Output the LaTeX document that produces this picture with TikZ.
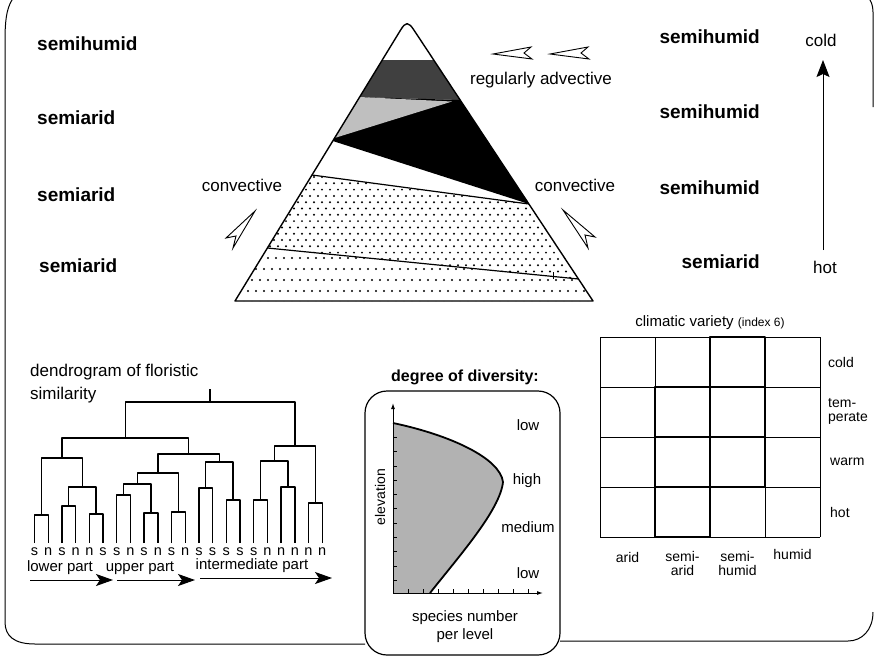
\documentclass[tikz,border=0pt]{standalone}
\usepackage{fontspec}
\setmainfont{Liberation Sans}
\usetikzlibrary{arrows.meta}
\newcommand\djoin[5]{\draw[den] (#1,#2) -- (#1,#5) -- (#3,#5) -- (#3,#4);}
\begin{document}
\begin{tikzpicture}[x=1pt,y=-1pt,line join=round,
 boldlab/.style={font=\fontsize{19}{22}\selectfont\bfseries,inner sep=0pt},
 lab/.style={font=\fontsize{17}{20}\selectfont,inner sep=0pt},
 smalllab/.style={font=\fontsize{14}{14}\selectfont,inner sep=0pt,align=center},
 midlab/.style={font=\fontsize{15}{17}\selectfont,inner sep=0pt,align=center},
 leaflab/.style={font=\fontsize{14.5}{15}\selectfont,inner sep=0pt},
 dart/.style={draw,fill=white,line width=0.9pt,line join=miter},
 den/.style={line width=1.4pt},
 gridline/.style={line width=0.8pt},
 thickcell/.style={line width=2.6pt},
 frameline/.style={line width=1pt},
 bigarrow/.style={line width=1pt,-{Stealth[length=17pt,width=12pt,inset=4pt]}},
 axisarrow/.style={line width=1pt,-{Latex[length=6pt,width=4pt]}},
]
\useasboundingbox (0,0) rectangle (876,657);

% ---------- outer frame ----------
\draw[frameline] (14,-3) .. controls (8,5) and (5,15) .. (5,40) -- (5,622)
  .. controls (5,636) and (14,644) .. (35,644) -- (365,644);
\draw[frameline] (560,641) -- (848,641) .. controls (862,641) and (873,630) .. (873,612);
\draw[frameline] (873,107) -- (873,12) .. controls (873,5) and (871,1) .. (868,-3);

% ---------- triangle ----------
\coordinate (A) at (407,19.5);
\coordinate (L) at (235,301);
\coordinate (R) at (593,301);
\coordinate (l60) at (382.3,60);   \coordinate (r60) at (433.8,60);
\coordinate (l97) at (359.6,97);   \coordinate (r100) at (460.2,100);
\coordinate (K) at (452,101.5);
\coordinate (l138) at (334.6,138); \coordinate (l141) at (332.8,141);
\coordinate (l175) at (312.0,175); \coordinate (r204) at (528.9,204);
\coordinate (l248) at (267.4,248); \coordinate (r279) at (578.5,279);

\fill[black!75] (l60) -- (r60) -- (r100) -- (l97) -- cycle;
\fill[black] (l97) -- (r100) -- (r204) -- (l141) -- cycle;
\fill[black!25] (l97) -- (K) -- (l138) -- cycle;

\begin{scope}
\clip (l175) -- (r204) -- (r279) -- (l248) -- cycle;
\foreach \j in {0,...,17}{
  \foreach \i in {0,...,42}{
    \fill ({258+8*\i+4*mod(\j,2)},{177+6.3*\j}) circle[radius=1.1pt];
  }
}
\end{scope}
\begin{scope}
\clip (l248) -- (r279) -- (R) -- (L) -- cycle;
\foreach \j in {0,...,5}{
  \foreach \i in {0,...,46}{
    \fill ({232+8*\i+4*mod(\j,2)},{247+11*\j}) circle[radius=1.05pt];
  }
}
\end{scope}

\draw[line width=1.2pt] (l175) -- (r204);
\draw[line width=1.2pt] (l248) -- (r279);
\draw[line width=0.8pt] (553,272) -- (553,279);
\draw[line width=1.4pt] (L) -- (400.6,30) .. controls (405.7,21.6) and (408.4,21.6) .. (413.9,30) -- (R) -- cycle;

% ---------- open arrows ----------
\draw[dart] (493,54) -- (531,47) -- (524,53) -- (532,59) -- cycle;
\draw[dart] (550,54) -- (588,47) -- (581,53) -- (589,59) -- cycle;
\draw[dart] (255,211) -- (226,238) -- (236,236) -- (233,248) -- cycle;
\draw[dart] (563,210) -- (595,237) -- (585,235) -- (588,248) -- cycle;

\node[lab] (conv1) at (242,185) {convective};
\node[lab] (conv2) at (575,185) {convective};
\node[lab] (adv) at (541,80) {regularly advective};

% ---------- left / right labels ----------
\node[boldlab,anchor=west] (lh1) at (37,44) {semihumid};
\node[boldlab,anchor=west] (la1) at (37,118) {semiarid};
\node[boldlab,anchor=west] (la2) at (37,195) {semiarid};
\node[boldlab,anchor=west] (la3) at (39,266) {semiarid};

\node[boldlab,anchor=east] (rh1) at (760,37) {semihumid};
\node[boldlab,anchor=east] (rh2) at (760,112) {semihumid};
\node[boldlab,anchor=east] (rh3) at (760,188) {semihumid};
\node[boldlab,anchor=east] (ra1) at (760,262) {semiarid};

\node[lab] (cold) at (821,40) {cold};
\node[lab] (hot) at (825,267) {hot};
\coordinate (hotarr) at (823,250);
\coordinate (coldarr) at (823,60);
\draw[line width=1pt,-{Stealth[length=17pt,width=13pt,inset=3pt]}] (hotarr) -- (coldarr);

% ---------- dendrogram ----------
\node[lab,anchor=west] (dtitle1) at (30,372) {dendrogram of floristic};
\node[lab,anchor=west] (dtitle2) at (30,395) {similarity};

\djoin{34.5}{543}{48.2}{543}{515}
\djoin{61.9}{543}{75.6}{543}{506}
\djoin{89.3}{543}{103}{543}{514}
\djoin{68.75}{506}{96.15}{514}{487}
\djoin{41.35}{515}{82.45}{487}{458}
\djoin{116.7}{543}{130.4}{543}{495}
\djoin{144.1}{543}{157.8}{543}{513}
\djoin{123.55}{495}{150.95}{513}{484}
\djoin{171.5}{543}{185.2}{543}{512}
\djoin{137.25}{484}{178.35}{512}{473}
\djoin{198.9}{543}{212.6}{543}{488}
\djoin{226.3}{543}{240}{543}{500}
\djoin{205.75}{488}{233.15}{500}{462}
\djoin{157.8}{473}{219.45}{462}{454}
\djoin{61.9}{458}{188.625}{454}{438}
\djoin{253.7}{543}{267.4}{543}{500}
\djoin{281.1}{543}{294.8}{543}{487}
\djoin{260.55}{500}{287.95}{487}{461}
\djoin{308.5}{543}{322.2}{543}{503}
\djoin{274.25}{461}{315.35}{503}{446}
\djoin{125.26}{438}{294.8}{446}{402}
\draw[den] (210,402) -- (210,389);

\foreach \lab [count=\k from 0] in {s,n,s,n,n,s,s,n,s,n,s,n,s,s,s,s,s,n,n,n,n,n}{
  \node[leaflab] (leaf\k) at ({34.5+13.7*\k},552) {\lab};
}

\node[midlab] (lower) at (60,568) {lower part};
\node[midlab] (upper) at (140,568) {upper part};
\node[midlab] (inter) at (252,566) {intermediate part};
\coordinate (a1s) at (30,580);  \coordinate (a1e) at (113,580);
\coordinate (a2s) at (117,580); \coordinate (a2e) at (195,580);
\coordinate (a3s) at (200,578); \coordinate (a3e) at (332,578);
\draw[bigarrow] (a1s) -- (a1e);
\draw[bigarrow] (a2s) -- (a2e);
\draw[bigarrow] (a3s) -- (a3e);

% ---------- diversity ----------
\node[font=\fontsize{16}{18}\selectfont\bfseries,inner sep=0pt] (divt) at (465,377) {degree of diversity:};
\draw[line width=1.2pt,rounded corners=22pt] (365,391) rectangle (560,655);
\fill[black!30] (393,423) .. controls (450,435) and (500,458) .. (503,482)
  .. controls (500,510) and (460,555) .. (430,593) -- (393,593) -- cycle;
\draw[line width=1.8pt] (393,423) .. controls (450,435) and (500,458) .. (503,482)
  .. controls (500,510) and (460,555) .. (430,593);
\coordinate (org) at (393,593);
\coordinate (ytip) at (393,403);
\coordinate (xtip) at (543,593);
\draw[axisarrow] (org) -- (ytip);
\draw[axisarrow] (org) -- (xtip);
\foreach \k in {0,...,11} \draw[line width=0.7pt] (393,{423+14.3*\k}) -- (397,{423+14.3*\k});
\foreach \k in {0,...,8} \draw[line width=0.7pt] ({408+15*\k},593) -- ({408+15*\k},589);
\node[smalllab,rotate=90] (elev) at (380,497) {elevation};
\node[midlab] (dl1) at (528,425) {low};
\node[midlab] (dh) at (527,481) {high};
\node[midlab] (dm) at (528,527) {medium};
\node[midlab] (dl2) at (528,573) {low};
\node[midlab] (spn) at (465,618) {species number};
\node[midlab] (ppl) at (465,636) {per level};

% ---------- climatic grid ----------
\node[inner sep=0pt] (cvt) at (710,323) {\fontsize{15}{17}\selectfont climatic variety \fontsize{12}{14}\selectfont(index 6)};
\foreach \x in {600,655,710,765,820} \draw[gridline] (\x,337) -- (\x,537);
\foreach \y in {337,387,437,487,537} \draw[gridline] (600,\y) -- (820,\y);
\draw[thickcell] (710,337) rectangle (765,387);
\draw[thickcell] (655,387) rectangle (710,437);
\draw[thickcell] (710,387) rectangle (765,437);
\draw[thickcell] (655,437) rectangle (710,487);
\draw[thickcell] (710,437) rectangle (765,487);
\draw[thickcell] (655,487) rectangle (710,537);

\node[smalllab,anchor=west] (gcold) at (828,362) {cold};
\node[smalllab,anchor=west,align=left] (gtemp) at (828,411) {tem-\\perate};
\node[smalllab,anchor=west] (gwarm) at (830,462) {warm};
\node[smalllab,anchor=west] (ghot) at (830,512) {hot};
\node[smalllab,anchor=north] (carid) at (627.5,552) {arid};
\node[smalllab,anchor=north] (csa) at (682.5,551) {semi-\\arid};
\node[smalllab,anchor=north] (csh) at (737.5,551) {semi-\\humid};
\node[smalllab,anchor=north] (chum) at (792.5,549) {humid};
\end{tikzpicture}
\end{document}
